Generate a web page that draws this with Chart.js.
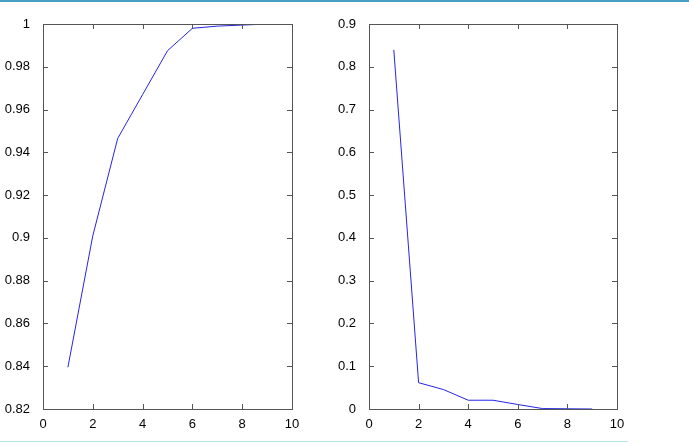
<!DOCTYPE html>
<html>
<head>
<meta charset="utf-8">
<script src="https://cdn.jsdelivr.net/npm/chart.js@4"></script>
<style>
  html, body { margin: 0; padding: 0; background: #fff; }
  body { width: 689px; height: 444px; position: relative; overflow: hidden; }
  .topline { position: absolute; left: 0; top: 0; width: 689px; height: 2px; background: #4a9fc4; }
  .bottomline { position: absolute; left: 0; top: 441px; width: 628px; height: 1px; background: #b5e1ec; }
  .panel { position: absolute; top: 0; height: 444px; }
  #left { left: 0; width: 330px; }
  #right { left: 330px; width: 359px; }
</style>
</head>
<body>
<div class="topline"></div>
<div class="bottomline"></div>
<div class="panel" id="left"><canvas id="cumChart"></canvas></div>
<div class="panel" id="right"><canvas id="varChart"></canvas></div>
<script>
'use strict';

// component index (x axis of both plots)
const components = [1, 2, 3, 4, 5, 6, 7, 8, 9];
// left: cumulative share
const cumulative = [0.8395, 0.901, 0.9465, 0.967, 0.9875, 0.998, 0.999, 0.9995, 1.0];
// right: individual share
const individual = [0.8395, 0.0615, 0.0455, 0.0205, 0.0205, 0.0105, 0.001, 0.0005, 0.0];

const xTicks = [0, 2, 4, 6, 8, 10];
const leftYTicks = [0.82, 0.84, 0.86, 0.88, 0.9, 0.92, 0.94, 0.96, 0.98, 1];
const rightYTicks = [0, 0.1, 0.2, 0.3, 0.4, 0.5, 0.6, 0.7, 0.8, 0.9];

const font = { family: "'Liberation Sans Narrow', 'Liberation Sans', Arial, sans-serif", size: 13 };
const lineColor = '#2424e6';
const axisColor = '#555555';

// MATLAB-style box with inward ticks on all four sides
const boxPlugin = {
  id: 'matlabBox',
  afterDraw(chart) {
    const { ctx, chartArea: a, scales } = chart;
    const len = 5;
    ctx.save();
    ctx.strokeStyle = axisColor;
    ctx.lineWidth = 1;
    ctx.beginPath();
    scales.x.ticks.forEach(t => {
      const px = Math.round(scales.x.getPixelForValue(t.value)) + 0.5;
      ctx.moveTo(px, a.bottom); ctx.lineTo(px, a.bottom - len);
      ctx.moveTo(px, a.top); ctx.lineTo(px, a.top + len);
    });
    scales.y.ticks.forEach(t => {
      const py = Math.round(scales.y.getPixelForValue(t.value)) + 0.5;
      ctx.moveTo(a.left, py); ctx.lineTo(a.left + len, py);
      ctx.moveTo(a.right, py); ctx.lineTo(a.right - len, py);
    });
    ctx.stroke();
    ctx.strokeRect(Math.round(a.left) + 0.5, Math.round(a.top) + 0.5,
      Math.round(a.right - a.left), Math.round(a.bottom - a.top));
    ctx.restore();
  }
};

function fmt(v) { return String(Number(v.toFixed(2))); }

function makeChart(id, values, yTicks, yAxisWidth, padRight) {
  const ctx = document.getElementById(id).getContext('2d');
  return new Chart(ctx, {
    type: 'line',
    data: {
      datasets: [{
        data: components.map((x, i) => ({ x, y: values[i] })),
        borderColor: lineColor,
        borderWidth: 1,
        pointRadius: 0,
        tension: 0,
        fill: false
      }]
    },
    options: {
      responsive: false,
      animation: false,
      events: [],
      layout: { autoPadding: false, padding: { top: 24, right: padRight, bottom: 0, left: 0 } },
      plugins: { legend: { display: false }, tooltip: { enabled: false } },
      scales: {
        x: {
          type: 'linear',
          min: xTicks[0], max: xTicks[xTicks.length - 1],
          afterBuildTicks: s => { s.ticks = xTicks.map(v => ({ value: v })); },
          afterFit: s => { s.height = 35; },
          grid: { display: false },
          border: { display: false },
          ticks: { font, color: '#000', padding: 0, maxRotation: 0, callback: v => fmt(v) }
        },
        y: {
          min: yTicks[0], max: yTicks[yTicks.length - 1],
          afterBuildTicks: s => { s.ticks = yTicks.map(v => ({ value: v })); },
          afterFit: s => { s.width = yAxisWidth; },
          grid: { display: false },
          border: { display: false },
          ticks: { font, color: '#000', padding: 5, callback: v => fmt(v) }
        }
      }
    },
    plugins: [boxPlugin]
  });
}

function sizeCanvas(id, w, h) {
  const c = document.getElementById(id);
  c.width = w; c.height = h;
  c.style.width = w + 'px'; c.style.height = h + 'px';
}

sizeCanvas('cumChart', 330, 444);
sizeCanvas('varChart', 359, 444);
makeChart('cumChart', cumulative, leftYTicks, 43, 38);
makeChart('varChart', individual, rightYTicks, 39, 72);
</script>
</body>
</html>
